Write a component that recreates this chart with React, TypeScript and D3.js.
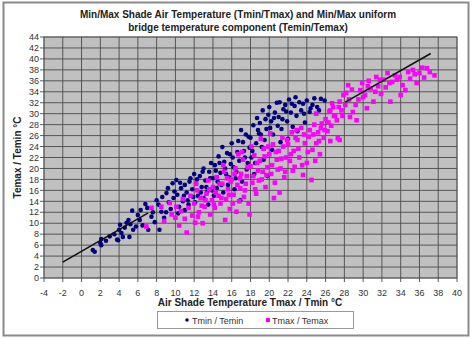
import React from "react";
import * as d3 from "d3";

const titleLines = [
  "Min/Max Shade Air  Temperature (Tmin/Tmax) and Min/Max uniform",
  "bridge temperature component (Temin/Temax)",
];
const xTitle = "Air Shade Temperature Tmax / Tmin \u00B0C";
const yTitle = "Temax / Temin \u00B0C";
const xTicks = d3.range(-4, 41, 2);
const yTicks = d3.range(0, 45, 2);
const seriesNames = ["Tmin / Temin", "Tmax / Temax"];

const tminTemin: [number, number][] = [
  [1.2,5.1],[1.4,4.8],[2.0,6.4],[2.1,7.1],[2.1,6.0],[2.6,6.8],[3.0,7.6],
  [3.5,8.0],[3.8,7.0],[3.9,6.9],[4.1,9.7],[4.25,8.2],[4.4,7.5],[4.0,8.8],[4.6,9.2],[4.8,10.1],[5.1,7.5],[5.5,8.8],[5.4,12.3],[5.2,9.8],[5.0,10.6],[5.8,9.4],
  [6.3,12.4],[6.2,10.6],[6.0,11.5],[6.5,9.6],[7.1,8.8],[7.45,11.2],[7.0,12.8],[6.8,13.5],[7.6,12.0],[7.8,10.2],[8.3,8.8],[8.5,12.1],[8.2,13.4],[8.0,14.2],[8.8,11.0],
  [9.05,15.5],[9.7,17.3],[10.1,17.9],[9.3,13.8],[9.5,12.6],[9.8,14.6],[10.2,15.2],[10.4,13.0],[10.6,16.4],[10.8,14.0],[11.0,17.0],[11.2,15.6],[10.3,11.8],[11.4,13.4],[11.6,18.2],[11.8,16.2],[11.0,12.4],
  [12.0,19.0],[12.2,17.2],[12.4,15.0],[12.6,18.6],[12.8,16.6],[12.1,13.8],[13.0,20.0],[13.2,17.8],[13.4,15.8],[13.6,19.4],[13.8,21.0],[13.0,14.6],[14.0,18.2],[14.2,20.6],[14.4,16.4],[14.6,22.2],[14.8,19.2],[14.1,15.0],[14.5,17.6],[13.5,13.4],
  [15.0,23.9],[15.2,21.2],[15.4,19.0],[15.6,17.0],[15.8,22.6],[15.1,15.6],[16.0,24.6],[16.2,20.2],[16.4,18.2],[16.6,23.0],[16.8,21.4],[16.3,16.2],[17.0,27.0],[17.2,24.8],[17.4,22.0],[17.6,19.8],[17.8,25.8],[17.1,17.6],[16.9,14.2],
  [18.3,27.9],[18.0,25.6],[18.2,23.2],[18.5,21.0],[18.7,29.2],[18.9,26.4],[18.4,19.0],[19.3,30.6],[19.0,28.3],[19.5,25.2],[19.2,23.9],[19.7,27.2],[19.9,29.8],[19.4,21.6],[20.0,31.2],[20.2,28.6],[20.4,26.2],[20.6,30.2],[20.8,32.0],[20.3,23.4],[19.8,18.6],
  [21.1,32.1],[21.0,29.4],[21.3,27.2],[21.5,30.8],[21.7,31.6],[21.9,28.6],[22.1,32.6],[22.3,30.2],[22.5,27.6],[22.7,31.4],[22.9,29.6],[23.2,32.1],[23.4,30.6],[23.6,31.8],[23.8,28.4],[24.0,32.4],[24.3,30.3],[24.6,31.6],[24.8,32.8],[25.1,31.2],[25.5,32.7],[25.9,32.4],[22.0,25.4],[21.2,24.8],[23.0,26.8],
  [8.6,14.8],[9.0,12.0],[9.2,16.4],[9.9,15.8],[10.5,17.4],[10.9,15.0],[11.3,14.2],[11.5,17.6],[11.9,14.8],[12.3,18.0],[12.7,15.6],[12.9,19.4],[13.3,16.6],[13.7,18.2],[13.9,16.0],[14.3,19.6],[14.7,21.0],[14.9,17.0],[15.3,20.0],[15.5,22.8],[15.7,18.4],[15.9,20.8],[16.1,22.0],[16.5,19.4],[16.7,25.0],[17.3,23.2],[17.5,26.2],[17.7,21.0],[17.9,23.8],[18.1,22.0],[18.6,24.6],[18.8,27.0],[19.1,26.2],[19.6,29.0],[20.1,27.4],[20.5,29.2],[20.9,27.8],[21.4,29.0],[21.8,30.4],[22.4,31.8],[22.8,33.0],[23.7,30.0],[24.4,31.0],[25.3,30.6],
];

const tmaxTemax: [number, number][] = [
  [7.45,12.8],[6.9,9.4],[8.5,13.0],[9.4,13.7],[10.1,13.0],[8.8,10.4],[9.6,11.6],[10.4,9.6],[10.0,11.0],
  [11.2,8.3],[10.6,12.2],[10.8,14.4],[11.0,10.8],[11.4,12.8],[11.6,15.0],[11.8,11.4],[12.1,10.1],[12.0,13.6],[12.3,16.0],[12.5,12.0],[12.7,14.6],[12.9,10.0],[12.2,17.2],
  [13.1,13.0],[13.3,15.4],[13.5,17.8],[13.7,11.6],[13.9,14.2],[14.0,16.6],[14.2,12.8],[14.4,18.4],[14.6,15.0],[14.8,13.6],[15.0,17.2],[15.3,10.6],[15.2,19.4],[15.4,14.4],[15.6,16.2],[15.8,12.6],[15.1,20.6],
  [16.0,18.0],[16.2,15.2],[16.5,12.1],[16.4,20.0],[16.6,17.0],[16.8,14.0],[17.0,19.0],[17.2,21.6],[17.4,16.0],[17.6,18.6],[17.8,13.6],[17.1,23.0],[18.0,20.4],[18.2,17.4],[18.4,22.4],[18.6,15.4],[18.8,19.6],[18.1,24.0],[17.9,11.6],[16.7,22.6],
  [19.0,21.4],[19.2,18.0],[19.4,23.6],[19.6,16.6],[19.8,20.2],[19.1,25.4],[20.0,22.6],[20.2,19.0],[20.4,24.4],[20.6,17.4],[20.8,21.6],[20.1,26.4],[21.0,23.2],[21.2,20.0],[21.4,25.6],[21.6,18.4],[21.8,22.0],[21.1,15.6],[20.5,14.6],
  [22.0,24.4],[22.2,21.4],[22.4,26.6],[22.7,20.3],[22.9,27.0],[22.6,23.2],[23.0,25.2],[23.2,22.0],[23.6,18.8],[23.4,27.4],[23.8,24.6],[24.0,21.0],[24.3,27.0],[24.5,17.9],[24.2,25.8],[24.6,23.4],[24.8,28.0],[25.0,24.6],[25.2,26.6],[25.4,22.6],[25.6,28.2],[25.8,25.6],
  [26.0,29.0],[26.2,26.8],[26.4,30.4],[26.6,27.8],[26.8,31.2],[27.0,29.6],[27.2,28.8],[27.3,25.5],[27.5,32.2],[27.5,25.2],[27.7,30.6],[27.9,33.4],[28.1,31.6],[28.4,35.2],[28.6,29.4],[28.9,30.3],[28.2,33.8],[26.5,25.0],[26.7,31.9],[26.5,30.6],[25.0,30.0],
  [29.3,28.8],[29.7,34.3],[29.5,32.6],[29.9,35.6],[30.2,33.4],[30.4,31.0],[30.6,36.0],[30.8,34.6],[31.1,32.2],[31.4,36.7],[31.6,35.0],[31.9,33.6],[32.2,36.2],[32.6,37.4],[32.9,32.2],[32.4,34.8],[33.1,35.8],[33.4,37.0],
  [33.9,36.7],[34.2,35.2],[34.5,34.3],[34.8,37.6],[35.0,36.4],[35.3,38.0],[35.7,35.6],[36.0,37.4],[36.3,38.4],[36.5,36.6],[36.8,38.3],[37.1,37.6],[37.6,37.0],[34.0,33.4],
  [12.4,11.2],[12.8,13.2],[13.2,14.2],[13.6,16.2],[14.1,13.4],[14.3,15.6],[14.7,17.2],[14.9,14.6],[15.5,18.2],[15.7,15.2],[15.9,17.6],[16.1,13.6],[16.3,19.0],[16.9,16.4],[16.9,18.2],[17.3,14.8],[17.5,17.2],[17.7,20.2],[18.3,18.6],[18.5,16.2],[18.7,21.0],[18.9,17.8],[19.3,19.4],[19.5,22.2],[19.7,18.8],[19.9,24.0],[20.3,20.6],[20.7,23.0],[20.9,19.8],[21.3,21.8],[21.5,24.0],[21.7,19.4],[21.9,25.2],[22.3,22.6],[22.5,19.6],[22.8,25.6],[23.1,23.6],[23.5,20.6],[23.7,26.2],[24.1,23.0],[24.7,26.2],[24.9,21.4],[25.3,25.0],[25.5,27.4],[25.9,27.0],[26.3,28.4],[26.9,29.6],[27.4,31.2],[27.8,29.6],[28.5,32.6],[28.8,34.4],[29.2,31.6],[30.0,33.0],[30.5,35.0],[31.3,34.0],[31.8,36.2],[32.8,35.6],[33.6,36.2],[35.5,37.2],
];

const lineSegments: [number, number][][] = [
  [[-2, 2.9], [7.1, 11.9]],
  [[28.1, 32.1], [37.2, 41.0]],
];

const W = 474, H = 338;
const L = 44, R = 457, T = 37, B = 278;
const font = "'Liberation Sans', Arial, sans-serif";

export default function App() {
  const x = d3.scaleLinear().domain([-4, 40]).range([L, R]);
  const y = d3.scaleLinear().domain([0, 44]).range([B, T]);
  const line = d3.line<[number, number]>().x(d => x(d[0])).y(d => y(d[1]));
  return (
    <svg width={W} height={H} style={{ position: "absolute", left: 0, top: 0, display: "block", background: "#fff" }} fontFamily={font}>
      <rect x={3.5} y={2.5} width={465} height={333} fill="#fff" stroke="#8a8a8a" strokeWidth={2} />
      {titleLines.map((t, i) => (
        <text key={i} x={238} y={18 + i * 13} textAnchor="middle" fontSize={10} fontWeight="bold" fill="#222">{t}</text>
      ))}
      <rect x={L} y={T} width={R - L} height={B - T} fill="#c0c0c0" stroke="#808080" strokeWidth={1} />
      {xTicks.map(v => (
        <line key={"gx" + v} x1={x(v)} x2={x(v)} y1={T} y2={B + 4} stroke="#4a4a4a" strokeWidth={0.9} />
      ))}
      {yTicks.map(v => (
        <line key={"gy" + v} x1={L - 4} x2={R} y1={y(v)} y2={y(v)} stroke="#4a4a4a" strokeWidth={0.9} />
      ))}
      {xTicks.map(v => (
        <text key={"tx" + v} x={x(v)} y={296} textAnchor="middle" fontSize={9} fill="#333">{v}</text>
      ))}
      {yTicks.map(v => (
        <text key={"ty" + v} x={39} y={y(v) + 3.2} textAnchor="end" fontSize={9} fill="#333">{v}</text>
      ))}
      <text x={250} y={306} textAnchor="middle" fontSize={10} fontWeight="bold" fill="#222">{xTitle}</text>
      <text transform={`translate(21,${(T + B) / 2}) rotate(-90)`} textAnchor="middle" fontSize={10} fontWeight="bold" fill="#222">{yTitle}</text>
      {tminTemin.map((d, i) => (
        <circle key={"b" + i} cx={x(d[0])} cy={y(d[1])} r={2.3} fill="#000080" />
      ))}
      {tmaxTemax.map((d, i) => (
        <rect key={"p" + i} x={x(d[0]) - 2.3} y={y(d[1]) - 2.3} width={4.6} height={4.6} fill="#ff00ff" />
      ))}
      {lineSegments.map((s, i) => (
        <path key={"l" + i} d={line(s) || ""} stroke="#111" strokeWidth={1.6} fill="none" />
      ))}
      <rect x={157.5} y={311.5} width={196} height={17} fill="#fff" stroke="#999" strokeWidth={1} />
      <circle cx={187} cy={320} r={1.8} fill="#000080" />
      <text x={192} y={323.5} fontSize={9} fill="#333">{seriesNames[0]}</text>
      <rect x={266} y={318} width={4} height={4} fill="#ff00ff" />
      <text x={272} y={323.5} fontSize={9} fill="#333">{seriesNames[1]}</text>
    </svg>
  );
}
